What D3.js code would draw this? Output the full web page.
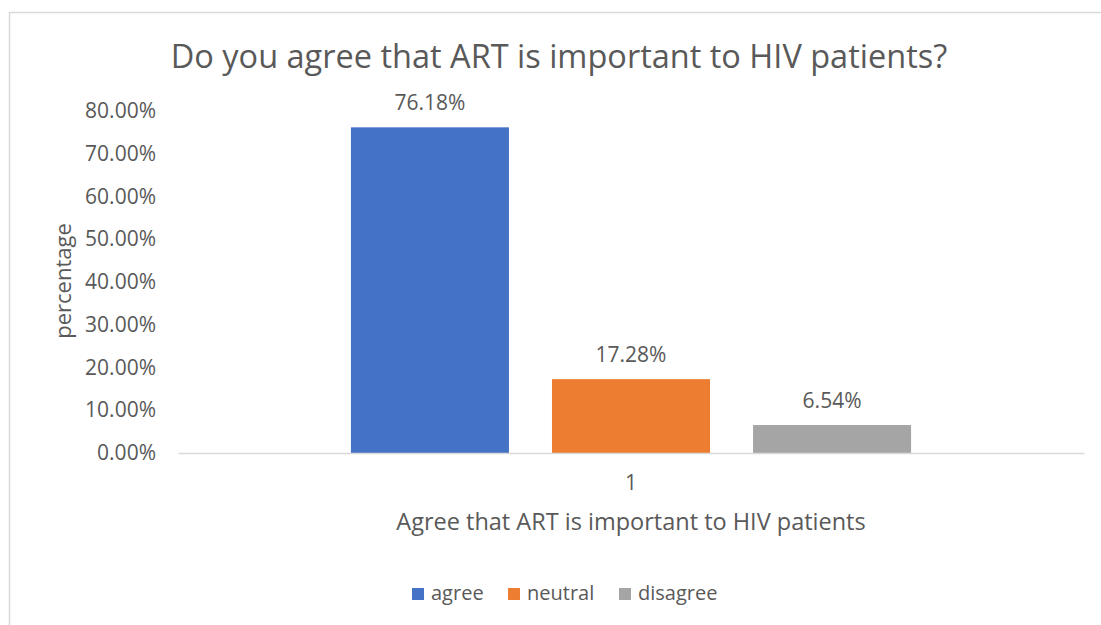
<!DOCTYPE html>
<html>
<head>
<meta charset="utf-8">
<script src="https://cdn.jsdelivr.net/npm/d3@7"></script>
<style>
  body { margin: 0; background: #fff; }
  text { font-family: "Open Sans", "Noto Sans", sans-serif; fill: #595959; }
</style>
</head>
<body>
<svg id="chart" width="1101" height="625"></svg>
<script>
// chart data
var categories = ["1"];
var seriesNames = ["agree", "neutral", "disagree"];
var seriesValues = [76.18, 17.28, 6.54];
var seriesColors = ["#4472c4", "#ed7d31", "#a5a5a5"];
var yTicks = [0, 10, 20, 30, 40, 50, 60, 70, 80];

var svg = d3.select("#chart");
var margin = {left: 178, right: 17, top: 111, bottom: 173};
var width = 1101, height = 625;

// outer chart frame (runs past right & bottom edges like the screenshot)
svg.append("rect")
  .attr("x", 9.5).attr("y", 12.5)
  .attr("width", 1120).attr("height", 640)
  .attr("fill", "none").attr("stroke", "#d9d9d9").attr("stroke-width", 1.5);

var x0 = d3.scaleBand().domain(categories).range([margin.left, width - margin.right]).paddingInner(0).paddingOuter(0);
var x1 = d3.scaleBand().domain(seriesNames).range([0, x0.bandwidth()]).paddingInner(0.214).paddingOuter(0.86);
var y = d3.scaleLinear().domain([0, 80]).range([height - margin.bottom + 1, margin.top]);

// title
svg.append("text")
  .attr("x", 559).attr("y", 68)
  .attr("text-anchor", "middle")
  .style("font-size", "32.5px")
  .text("Do you agree that ART is important to HIV patients?");

// y axis labels
var yAxis = svg.append("g")
  .attr("transform", "translate(" + (margin.left - 22) + ",0)")
  .call(d3.axisLeft(y).tickValues(yTicks).tickSize(0).tickFormat(function(d){ return d3.format(".2f")(d) + "%"; }));
yAxis.select(".domain").remove();
yAxis.selectAll("text")
  .attr("x", 0)
  .style("font-size", "21px")
  .style("font-family", "'Open Sans', sans-serif")
  .attr("fill", "#595959");

// y title
svg.append("text")
  .attr("transform", "translate(71,281) rotate(-90)")
  .attr("text-anchor", "middle")
  .style("font-size", "22px")
  .text("percentage");

// bars
var group = svg.append("g").selectAll("g")
  .data(categories).enter().append("g")
  .attr("transform", function(d){ return "translate(" + x0(d) + ",0)"; });

var barData = seriesNames.map(function(s, i){ return {name: s, value: seriesValues[i], color: seriesColors[i]}; });

group.selectAll("rect")
  .data(barData).enter().append("rect")
  .attr("x", function(d){ return x1(d.name); })
  .attr("y", function(d){ return y(d.value); })
  .attr("width", x1.bandwidth())
  .attr("height", function(d){ return y(0) - y(d.value); })
  .attr("fill", function(d){ return d.color; });

// data labels
group.selectAll(".lbl")
  .data(barData).enter().append("text")
  .attr("class", "lbl")
  .attr("x", function(d){ return x1(d.name) + x1.bandwidth() / 2; })
  .attr("y", function(d){ return y(d.value) - 17; })
  .attr("text-anchor", "middle")
  .style("font-size", "21px")
  .text(function(d){ return d.value.toFixed(2) + "%"; });

// x axis line + category label
var xAxis = svg.append("g")
  .attr("transform", "translate(0," + y(0) + ")")
  .call(d3.axisBottom(x0).tickSize(0).tickSizeOuter(0).tickPadding(22));
xAxis.select(".domain").attr("stroke", "#d9d9d9").attr("stroke-width", 1.5);
xAxis.selectAll("text")
  .style("font-size", "21px")
  .style("font-family", "'Open Sans', sans-serif")
  .attr("fill", "#595959");

// x title
svg.append("text")
  .attr("x", 631).attr("y", 530)
  .attr("text-anchor", "middle")
  .style("font-size", "23.5px")
  .text("Agree that ART is important to HIV patients");

// legend
var legendX = [412, 508, 619];
var legend = svg.append("g").selectAll("g")
  .data(barData).enter().append("g")
  .attr("transform", function(d, i){ return "translate(" + legendX[i] + ",588)"; });
legend.append("rect")
  .attr("width", 12).attr("height", 12)
  .attr("fill", function(d){ return d.color; });
legend.append("text")
  .attr("x", 19).attr("y", 12)
  .style("font-size", "20px")
  .text(function(d){ return d.name; });
</script>
</body>
</html>
